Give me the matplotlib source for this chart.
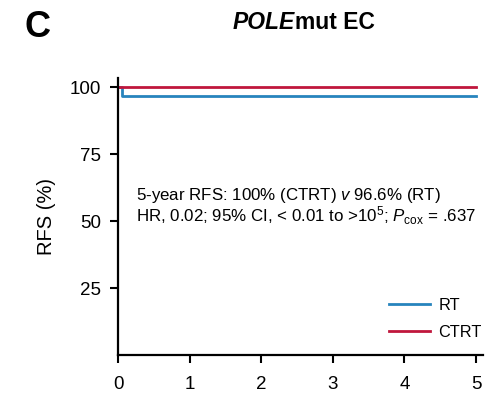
import numpy as np
import matplotlib.pyplot as plt

plt.rcParams['font.family'] = ['Liberation Sans', 'DejaVu Sans']
plt.rcParams['mathtext.fontset'] = 'custom'
plt.rcParams['mathtext.rm'] = 'Liberation Sans'
plt.rcParams['mathtext.it'] = 'Liberation Sans:italic'
plt.rcParams['mathtext.bf'] = 'Liberation Sans:bold'

# Kaplan-Meier step data (years, RFS %)
rt_time = [0, 0.05, 5.0]
rt_rfs = [100, 96.6, 96.6]
ctrt_time = [0, 5.0]
ctrt_rfs = [100, 100]

x_ticks = [0, 1, 2, 3, 4, 5]
y_ticks = [25, 50, 75, 100]

BLUE = '#2784bd'
RED = '#c0163c'

fig = plt.figure(figsize=(4.9, 3.96), dpi=100)
ax = fig.add_axes([0.241, 0.1035, 0.745, 0.70])

ax.step(rt_time, rt_rfs, where='post', color=BLUE, lw=2, label='RT')
ax.step(ctrt_time, ctrt_rfs, where='post', color=RED, lw=2, label='CTRT')

ax.set_xlim(0, 5.1)
ax.set_ylim(0, 103.5)
ax.set_xticks(x_ticks)
ax.set_yticks(y_ticks)
ax.tick_params(direction='out', length=6, width=1.5, labelsize=13.5, color='black')
ax.tick_params(axis='x', pad=9)
ax.tick_params(axis='y', pad=6)
for side in ('top', 'right'):
    ax.spines[side].set_visible(False)
for side in ('left', 'bottom'):
    ax.spines[side].set_linewidth(1.6)
ax.set_ylabel('RFS (%)', fontsize=14.5, labelpad=10)

stats = (r'5-year RFS: 100% (CTRT) $v$ 96.6% (RT)' '\n'
         r'HR, 0.02; 95% CI, < 0.01 to >10$^5$; $P_{\mathrm{cox}}$ = .637')
ax.text(0.25, 55.5, stats, fontsize=12.2, va='center', linespacing=0.98)

ax.legend(loc='lower right', frameon=False, fontsize=11.7, handlelength=2.5,
          labelspacing=0.75, bbox_to_anchor=(1.018, 0.025), handletextpad=0.5,
          borderaxespad=0.3, borderpad=0.2)

# panel letter and title
fig.text(0.05, 0.93, 'C', fontsize=26, fontweight='bold', va='center')
t1 = fig.text(0.4755, 0.942, 'POLE', fontsize=16.5, fontweight='bold', fontstyle='italic',
              va='center')
ax.annotate('mut EC', xy=(1, 0), xycoords=t1, fontsize=16.5, fontweight='bold',
            va='bottom', ha='left', annotation_clip=False)

fig.savefig('out.png', dpi=100)
